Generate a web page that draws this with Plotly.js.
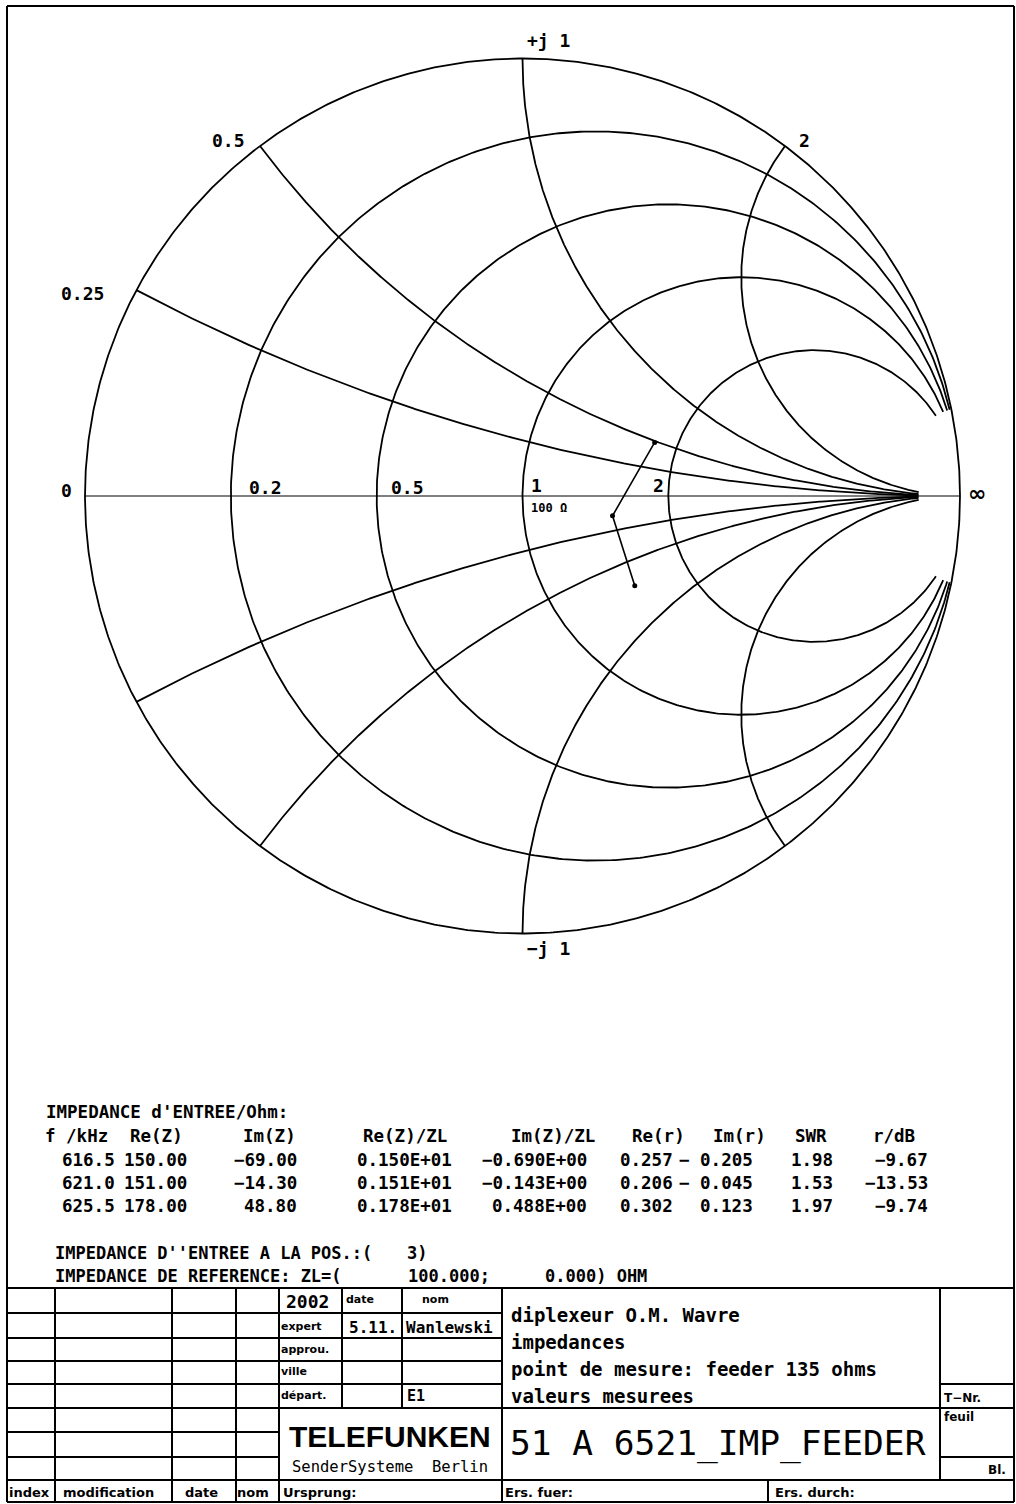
<!DOCTYPE html>
<html><head><meta charset="utf-8">
<script src="https://cdn.plot.ly/plotly-3.0.1.min.js"></script>
<style>html,body{margin:0;padding:0;background:#fff}#chart{width:1016px;height:1504px}</style>
</head><body><div id="chart"></div>
<script>
// ---------------- data ----------------
const Z0 = 100.000;               // reference impedance (Ohm)
const ZLimag = 0.000;
const posIndex = 3;
const freqKHz = [616.5, 621.0, 625.5];
const reZ = [150.00, 151.00, 178.00];
const imZ = [-69.00, -14.30, 48.80];

// Smith grid values
const rCircles = [0.2, 0.5, 1, 2];
const xArcs = [0.25, 0.5, 1, 2];
const rTickLabels = ['0.2', '0.5', '1', '2'];
const xTickLabels = ['0.25', '0.5', '+j 1', '2'];

// column headers
const colHeaders = ['f /kHz', 'Re(Z)', 'Im(Z)', 'Re(Z)/ZL', 'Im(Z)/ZL', 'Re(r)', 'Im(r)', 'SWR', 'r/dB'];

// ---------------- helpers ----------------
const W = 1016, H = 1504;
const XMAX = 10, RMAX = 20;
function gam(r, x){ const d = (r+1)*(r+1) + x*x; return [(r*r - 1 + x*x)/d, 2*x/d]; }
const MONO = 'DejaVu Sans Mono', SANS = 'DejaVu Sans';
const K = '#000';

const traces = [];
function addLine(xs, ys, w){
  traces.push({type:'scatter', mode:'lines', x:xs, y:ys, line:{color:K, width:w}, hoverinfo:'skip', showlegend:false});
}
// outer circle (r = 0)
{ const xs=[], ys=[]; for(let i=0;i<=900;i++){ const t=2*Math.PI*i/900; xs.push(Math.cos(t)); ys.push(Math.sin(t)); } addLine(xs, ys, 1.8); }
// real axis
addLine([-1, 1], [0, 0], 1.1);
// constant resistance circles, clipped at |x| <= XMAX
rCircles.forEach(r => {
  const c = r/(1+r), rho = 1/(1+r);
  const g = gam(r, XMAX);
  const t1 = Math.atan2(g[1], g[0]-c);
  const xs=[], ys=[], N=600;
  for(let i=0;i<=N;i++){ const t = t1 + (2*Math.PI - 2*t1)*i/N; xs.push(c + rho*Math.cos(t)); ys.push(rho*Math.sin(t)); }
  addLine(xs, ys, 1.8);
});
// constant reactance arcs from r = 0 to r = RMAX
xArcs.forEach(xv => {
  [1, -1].forEach(sg => {
    const xs=[], ys=[], N=700, smax = RMAX/(1+RMAX);
    for(let i=0;i<=N;i++){ const s = smax*i/N; const r = s/(1-s); const g = gam(r, sg*xv); xs.push(g[0]); ys.push(g[1]); }
    addLine(xs, ys, 1.8);
  });
});
// measured impedances
const zr = reZ.map(v => v/Z0), zi = imZ.map(v => v/Z0);
const G = zr.map((r,i) => gam(r, zi[i]));
traces.push({type:'scatter', mode:'lines+markers', x:G.map(g=>g[0]), y:G.map(g=>g[1]),
  line:{color:K, width:1.6}, marker:{color:K, size:5}, hoverinfo:'skip', showlegend:false});

// ---------------- annotations ----------------
const ann = [];
function font(fam, size, bold){ return {family:fam, size:size, color:K, weight: bold ? 'bold' : 'normal'}; }
// page-pixel text
function T(text, px, py, anchor, f){
  ann.push({text:text, x:px/W, y:1-py/H, xref:'paper', yref:'paper', xanchor:anchor||'left', yanchor:'middle', showarrow:false, font:f});
}
// chart-coordinate text with shifts
function TG(text, gx, gy, anchor, dx, dy, f){
  ann.push({text:text, x:gx, y:gy, xref:'x', yref:'y', xanchor:anchor, yanchor:'middle', xshift:dx, yshift:dy, showarrow:false, font:f});
}
const fLab = font(MONO, 18, true);
// reactance labels (upper half)
const xLabStyle = [['right',-30,-3], ['right',-13,6], ['left',2,18], ['left',12,6]];
xArcs.forEach((xv,i) => { const g = gam(0, xv); TG(xTickLabels[i], g[0], g[1], xLabStyle[i][0], xLabStyle[i][1], xLabStyle[i][2], fLab); });
{ const g = gam(0, -1); TG('\u2212j 1', g[0], g[1], 'left', 2, -15, fLab); }
TG('0', -1, 0, 'right', -11, 6, fLab);
TG('\u221e', 1, 0, 'left', 6, 3, font(SANS, 22, true));
// resistance labels on axis
const rLabStyle = [['left',16,9], ['left',12,9], ['left',6,11], ['right',-2,11]];
rCircles.forEach((r,i) => { const g = gam(r, 0); TG(rTickLabels[i], g[0], 0, rLabStyle[i][0], rLabStyle[i][1], rLabStyle[i][2], fLab); });
TG(String(Z0.toFixed(0)) + ' \u03a9', gam(1,0)[0], 0, 'left', 6, -12, font(MONO, 12, true));

// ---------------- table ----------------
const fT = font(MONO, 17.5, true);
const fT2 = font(MONO, 17, true);
const M = '\u2212';
function sgn(v, d){ return (v < 0 ? M : '') + Math.abs(v).toFixed(d); }
function efmt(v){
  const e = Math.floor(Math.log10(Math.abs(v))) + 1;
  const m = v/Math.pow(10, e);
  return (m < 0 ? M : '') + Math.abs(m).toFixed(3) + 'E' + (e < 0 ? '-' : '+') + String(Math.abs(e)).padStart(2,'0');
}
const mag = G.map(g => Math.hypot(g[0], g[1]));
const swr = mag.map(m => (1+m)/(1-m));
const rdb = mag.map(m => 20*Math.log10(m));

T("IMPEDANCE d'ENTREE/Ohm:", 44, 1112, 'left', fT);
const headX = [43, 128, 241, 361, 509, 630, 711, 793, 871];
colHeaders.forEach((h,i) => T(h, headX[i], 1136, 'left', fT));
const colRight = [117, 189, 299, 454, 589, 675, 755, 835, 930];
const rowY = [1160, 1183, 1206];
freqKHz.forEach((f,i) => {
  const cells = [
    f.toFixed(1), reZ[i].toFixed(2), sgn(imZ[i],2), efmt(zr[i]), efmt(zi[i]),
    G[i][0].toFixed(3), (G[i][1] < 0 ? M + ' ' : '') + Math.abs(G[i][1]).toFixed(3),
    swr[i].toFixed(2), sgn(rdb[i],2)
  ];
  cells.forEach((c,j) => T(c, colRight[j], rowY[i], 'right', fT));
});
T("IMPEDANCE D''ENTREE A LA POS.:(", 53, 1253, 'left', fT2);
T(posIndex + ')', 429, 1253, 'right', fT2);
T('IMPEDANCE DE REFERENCE: ZL=(', 53, 1276, 'left', fT2);
T(Z0.toFixed(3) + ';', 492, 1276, 'right', fT2);
T(ZLimag.toFixed(3) + ') OHM', 543, 1276, 'left', fT2);

// ---------------- title block ----------------
const shapes = [];
function L(x0, y0, x1, y1, w){
  shapes.push({type:'line', xref:'paper', yref:'paper', x0:x0/W, x1:x1/W, y0:1-y0/H, y1:1-y1/H, line:{color:K, width:w||2}});
}
// frame
L(7,6,1014,6); L(7,1502,1014,1502); L(7,6,7,1502); L(1014,6,1014,1502);
// horizontals
L(7,1288,1014,1288);
[1313,1338,1361,1384].forEach(y => L(7,y,502,y));
L(7,1408,1014,1408);
[1432,1457].forEach(y => L(7,y,279,y));
L(7,1480,1014,1480);
L(940,1384,1014,1384); L(940,1457,1014,1457);
// verticals
[55,172,236,279,502].forEach(x => L(x,1288,x,1502));
[342,402].forEach(x => L(x,1288,x,1408));
L(940,1288,940,1480);
L(768,1480,768,1502);

const fS = font(SANS, 11, true);
const fS12 = font(SANS, 12, true);
T('2002', 284, 1301, 'left', font(MONO, 18, true));
T('date', 344, 1299, 'left', fS);
T('nom', 420, 1299, 'left', fS);
T('expert', 279, 1326, 'left', fS);
T('5.11.', 347, 1327, 'left', font(MONO, 16, true));
T('Wanlewski', 404, 1327, 'left', font(MONO, 16, true));
T('approu.', 279, 1349, 'left', fS);
T('ville', 279, 1371, 'left', fS);
T('d\u00e9part.', 279, 1395, 'left', fS);
T('E1', 405, 1396, 'left', font(MONO, 15, true));
T('TELEFUNKEN', 390, 1436, 'center', font('Liberation Sans', 30, true));
T('SenderSysteme  Berlin', 390, 1467, 'center', font(MONO, 15.5, false));
T('index', 7, 1492, 'left', font(SANS, 13, true));
T('modification', 61, 1492, 'left', font(SANS, 13, true));
T('date', 183, 1492, 'left', font(SANS, 13, true));
T('nom', 235, 1492, 'left', font(SANS, 13, true));
T('Ursprung:', 281, 1492, 'left', font(SANS, 13, true));
const fR = font(MONO, 19, true);
T('diplexeur O.M. Wavre', 509, 1315, 'left', fR);
T('impedances', 509, 1342, 'left', fR);
T('point de mesure: feeder 135 ohms', 509, 1369, 'left', fR);
T('valeurs mesurees', 509, 1396, 'left', fR);
T('51 A 6521_IMP_FEEDER', 718, 1443, 'center', font(MONO, 34.5, false));
T('T\u2212Nr.', 942, 1398, 'left', fS12);
T('feuil', 942, 1417, 'left', fS12);
T('Bl.', 1008, 1470, 'right', fS12);
T('Ers. fuer:', 503, 1492, 'left', font(SANS, 13, true));
T('Ers. durch:', 773, 1492, 'left', font(SANS, 13, true));

const layout = {
  width: W, height: H, margin:{l:0, r:0, t:0, b:0, pad:0},
  paper_bgcolor:'#fff', plot_bgcolor:'#fff', showlegend:false,
  xaxis:{visible:false, range:[(0-522.5)/437.5, (W-522.5)/437.5], fixedrange:true},
  yaxis:{visible:false, range:[(496-H)/437.5, 496/437.5], fixedrange:true},
  shapes: shapes, annotations: ann, hovermode:false
};
Plotly.newPlot('chart', traces, layout, {displayModeBar:false, staticPlot:true});
</script></body></html>
